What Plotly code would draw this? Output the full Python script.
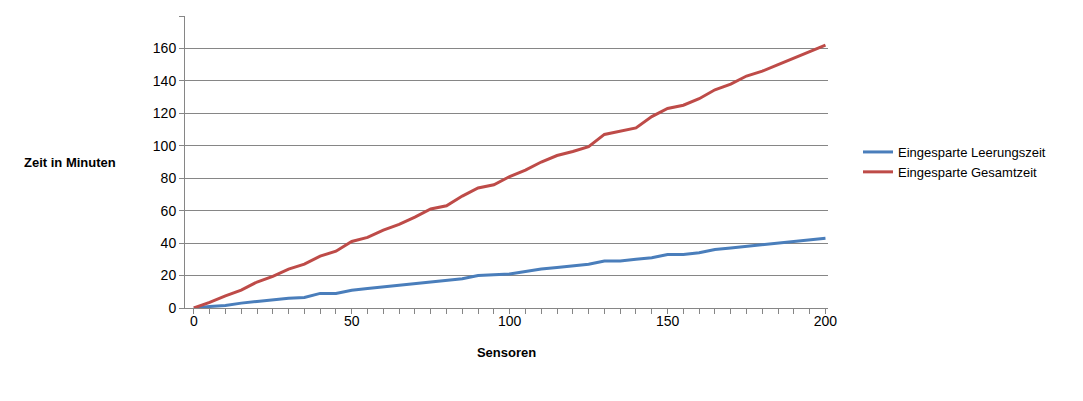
import plotly.graph_objects as go

sensoren = list(range(0, 201, 5))
leerungszeit = [0, 1, 1.5, 3, 4, 5, 6, 6.5, 9, 9, 11, 12, 13, 14, 15, 16, 17, 18, 20, 20.5,
                21, 22.5, 24, 25, 26, 27, 29, 29, 30, 31, 33, 33, 34, 36, 37, 38, 39, 40, 41, 42, 43]
gesamtzeit = [0, 3.5, 7.5, 11, 16, 19.5, 24, 27, 32, 35, 41, 43.5, 48, 51.5, 56, 61, 63, 69, 74, 76,
              81, 85, 90, 94, 96.5, 99.5, 107, 109, 111, 118, 123, 125, 129, 134.5, 138, 143, 146, 150, 154, 158, 162]

fig = go.Figure()
fig.add_trace(go.Scatter(x=sensoren, y=leerungszeit, mode="lines", name="Eingesparte Leerungszeit",
                         line=dict(color="#4a7ebb", width=3)))
fig.add_trace(go.Scatter(x=sensoren, y=gesamtzeit, mode="lines", name="Eingesparte Gesamtzeit",
                         line=dict(color="#be4b48", width=3)))

W, H = 1075, 393
L, R, T, B = 177, 255, 8, 93
pw, ph = W - L - R, H - T - B

fig.update_layout(
    width=W, height=H, paper_bgcolor="white", plot_bgcolor="white",
    margin=dict(l=L, r=R, t=T, b=B),
    font=dict(family="Liberation Sans, Arial", size=14, color="black"),
    legend=dict(x=1 + 30 / pw, y=0.5, yanchor="middle", font=dict(size=13), tracegroupgap=6),
    annotations=[dict(text="<b>Zeit in Minuten</b>", xref="paper", yref="paper",
                      x=-(L - 14) / pw, y=0.5, xanchor="left", showarrow=False, font=dict(size=13))],
)
fig.update_xaxes(range=[-2.8, 200.8], tickvals=[0, 50, 100, 150, 200], showgrid=False,
                 showline=True, linecolor="#868686", ticks="", zeroline=False,
                 minor=dict(tickvals=sensoren, ticks="outside", ticklen=5, tickcolor="#868686"),
                 title=dict(text="<b>Sensoren</b>", font=dict(size=13), standoff=20))
fig.update_yaxes(range=[0, 180], dtick=20, showgrid=True, gridcolor="#868686", showline=True,
                 linecolor="#868686", ticks="outside", ticklen=5, tickcolor="#868686", zeroline=False)

fig.write_html("out.html")
